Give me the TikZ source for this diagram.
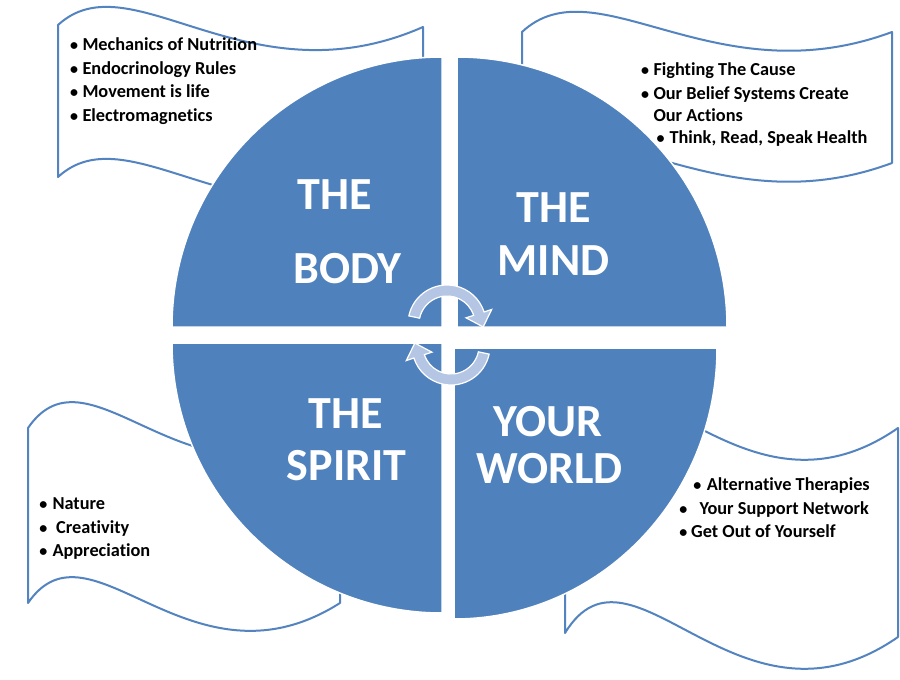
\documentclass[tikz,border=0pt]{standalone}
\usepackage{fontspec}
\setmainfont{Carlito}[Ligatures=NoCommon]
\usetikzlibrary{calc}
\definecolor{qblue}{HTML}{4F81BD}
\definecolor{bline}{HTML}{5384C0}
\definecolor{arrowfill}{HTML}{B4C6E4}
\tikzset{
  banner/.style={draw=bline, line width=2pt, fill=white, line join=round},
  quad/.style={fill=qblue, draw=white, line width=1.5pt},
  cyclearrow/.style={fill=arrowfill, draw=white, line width=1.2pt, line join=miter},
  title/.style={text=white, font=\bfseries\fontsize{46}{46}\selectfont, anchor=base, inner sep=0pt},
  item/.style={font=\bfseries\fontsize{18.3}{20}\selectfont, anchor=base west, inner sep=0pt},
  dot/.style={font=\bfseries\fontsize{16}{18}\selectfont, anchor=base, inner sep=0pt},
}
% x0, yL, x1, yR, height, a, b  (pixel units, y downward)
\newcommand{\wavebanner}[7]{%
  \path[banner] (#1,-#2)
    .. controls ({#1+0.2*(#3-#1)},{-(#2+#6)}) and ({#1+0.52*(#3-#1)},{-(#2+#7)}) .. (#3,-#4)
    -- (#3,{-(#4+#5)})
    .. controls ({#1+0.52*(#3-#1)},{-(#2+#5+#7)}) and ({#1+0.2*(#3-#1)},{-(#2+#5+#6)}) .. (#1,{-(#2+#5)})
    -- cycle;}
\begin{document}
\begin{tikzpicture}[x=1pt,y=1pt]
\useasboundingbox[fill=white] (0,0) rectangle (900,-680);

% banners
\wavebanner{58}{25}{423}{27}{152}{-67}{79}
\wavebanner{522}{32}{892}{32}{131}{-69}{66}
\wavebanner{28}{428}{340}{428}{175}{-91}{95}
\wavebanner{565}{424}{898}{428}{209}{-109}{115}

% quadrants
\path[quad] (442,-327) -- (172,-327) arc[start angle=180,end angle=90,radius=270pt] -- cycle;
\path[quad] (457,-327) -- (457,-57) arc[start angle=90,end angle=0,radius=270pt] -- cycle;
\path[quad] (442,-343) -- (172,-343) arc[start angle=180,end angle=270,radius=270pt] -- cycle;
\path[quad] (454,-348) -- (717,-348) arc[start angle=0,end angle=-90,x radius=263pt,y radius=271pt] -- cycle;

% cycle arrows
\coordinate (c1) at (447,-324);
\path[cyclearrow] ($(c1)+(168:39pt)$) arc[start angle=168,end angle=18,radius=39pt]
  -- ($(c1)+(18:47pt)$) -- ($(c1)+(18:33.5pt)+(-72:14pt)$) -- ($(c1)+(18:20pt)$)
  -- ($(c1)+(18:28pt)$) arc[start angle=18,end angle=168,radius=28pt] -- cycle;
\coordinate (c2) at (451,-346);
\path[cyclearrow] ($(c2)+(-12:39pt)$) arc[start angle=-12,end angle=-162,radius=39pt]
  -- ($(c2)+(-162:47pt)$) -- ($(c2)+(-162:33.5pt)+(108:14pt)$) -- ($(c2)+(-162:20pt)$)
  -- ($(c2)+(-162:28pt)$) arc[start angle=-162,end angle=-12,radius=28pt] -- cycle;

% titles
\node[title] (bodyA) at (335,-209) {THE};
\node[title] (bodyB) at (347.5,-283) {BODY};
\node[title] (mindA) at (553.5,-222) {THE};
\node[title] (mindB) at (553.5,-275) {MIND};
\node[title] (spiritA) at (346,-428) {THE};
\node[title] (spiritB) at (346.5,-480) {SPIRIT};
\node[title] (worldA) at (548,-436) {YOUR};
\node[title] (worldB) at (549.5,-483) {WORLD};

% top-left list
\node[dot] (d11) at (74,-50.7) {\textbullet};
\node[item] (t11) at (82.3,-50.7) {Mechanics of Nutrition};
\node[dot] (d12) at (74,-74) {\textbullet};
\node[item] (t12) at (82.3,-74) {Endocrinology Rules};
\node[dot] (d13) at (74,-97.7) {\textbullet};
\node[item] (t13) at (82.3,-97.7) {Movement is life};
\node[dot] (d14) at (74,-121.7) {\textbullet};
\node[item] (t14) at (82.3,-121.7) {Electromagnetics};

% top-right list
\node[dot] (d21) at (645,-75) {\textbullet};
\node[item] (t21) at (653.3,-75) {Fighting The Cause};
\node[dot] (d22) at (645,-99) {\textbullet};
\node[item] (t22) at (653.3,-99) {Our Belief Systems Create};
\node[item] (t23) at (653.3,-121) {Our Actions};
\node[dot] (d24) at (660.7,-143) {\textbullet};
\node[item] (t24) at (669.3,-143) {Think, Read, Speak Health};

% bottom-left list
\node[dot] (d31) at (43.3,-509) {\textbullet};
\node[item] (t31) at (52.3,-509) {Nature};
\node[dot] (d32) at (43.3,-533) {\textbullet};
\node[item] (t32) at (56,-533) {Creativity};
\node[dot] (d33) at (43.3,-556.7) {\textbullet};
\node[item] (t33) at (52.3,-556.7) {Appreciation};

% bottom-right list
\node[dot] (d41) at (697.3,-490) {\textbullet};
\node[item] (t41) at (706.7,-490) {Alternative Therapies};
\node[dot] (d42) at (683.3,-514) {\textbullet};
\node[item] (t42) at (699.3,-514) {Your Support Network};
\node[dot] (d43) at (683.3,-537) {\textbullet};
\node[item] (t43) at (691,-537) {Get Out of Yourself};
\end{tikzpicture}
\end{document}
